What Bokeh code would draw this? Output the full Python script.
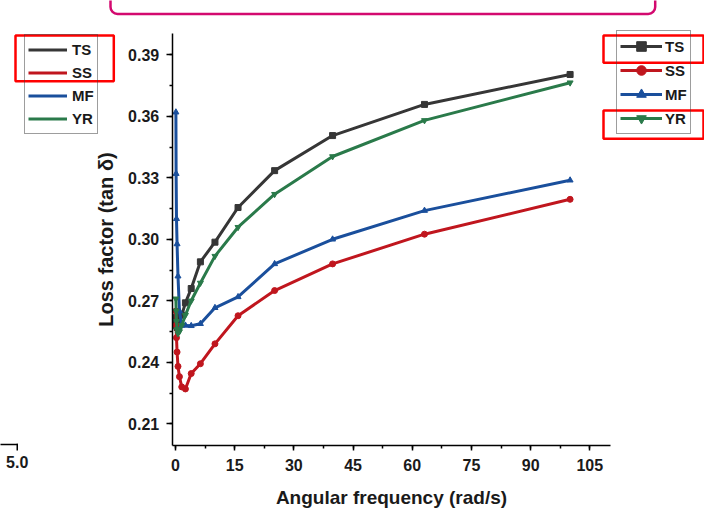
from bokeh.plotting import figure
from bokeh.models import (Legend, LegendItem, BoxAnnotation, Label, SingleIntervalTicker,
                          Range1d, NumeralTickFormatter)
from bokeh.embed import file_html
from bokeh.resources import INLINE

# ---- data ----
freq = [0.1, 0.158, 0.251, 0.398, 0.631, 1.0, 1.585, 2.512, 3.981, 6.31, 10.0, 15.85, 25.12, 39.81, 63.1, 100.0]
TS = [0.262, 0.260, 0.258, 0.257, 0.257, 0.259, 0.263, 0.269, 0.276, 0.289, 0.2986, 0.3155, 0.3335, 0.3506, 0.3658, 0.3804]
SS = [0.265, 0.258, 0.252, 0.245, 0.238, 0.233, 0.228, 0.227, 0.2345, 0.2393, 0.249, 0.2627, 0.275, 0.288, 0.3025, 0.3195]
MF = [0.362, 0.332, 0.310, 0.2977, 0.282, 0.265, 0.258, 0.258, 0.2578, 0.2588, 0.2666, 0.2719, 0.288, 0.300, 0.314, 0.3288]
YR = [0.271, 0.265, 0.260, 0.256, 0.254, 0.255, 0.258, 0.263, 0.270, 0.2787, 0.2918, 0.3059, 0.322, 0.3404, 0.358, 0.3764]
series_names = ["TS", "SS", "MF", "YR"]
series_values = [TS, SS, MF, YR]
colors = ["#363636", "#c0161e", "#1a4f9c", "#2a7a4a"]
markers = ["square", "circle", "triangle", "inverted_triangle"]

FONT = "Liberation Sans"
TXT = "#1a1a1a"

W, H = 704, 509
# pixel geometry of the plot area (x=0 at 175px, 3.946 px/unit; y=0.39 at 54.3px, 2050 px/unit)
X0, XS = 175.0, 3.946
Y39, YS = 54.3, 2050.0
def xv(px): return (px - X0) / XS
def yv(py): return 0.39 - (py - Y39) / YS

p = figure(width=W, height=H, output_backend="svg", toolbar_location=None,
           x_range=Range1d(xv(0), xv(W)), y_range=Range1d(yv(H), yv(0)),
           min_border=0, min_border_left=0, min_border_right=0,
           min_border_top=0, min_border_bottom=0)
p.title.visible = False
p.outline_line_color = None
p.grid.visible = False
p.background_fill_color = "white"
p.border_fill_color = "white"

line_rs, mark_rs = [], []
for name, vals, c, m in zip(series_names, series_values, colors, markers):
    lr = p.line(freq, vals, line_color=c, line_width=3)
    mr = p.scatter(freq, vals, marker=m, size=6, fill_color=c, line_color=c)
    line_rs.append(lr)
    mark_rs.append(mr)

x_left, x_right = xv(171.7), xv(610)
y_bot, y_top = yv(444.7), yv(33)

for ax in (p.xaxis[0], p.yaxis[0]):
    ax.axis_line_color = "black"
    ax.axis_line_width = 1.5
    ax.major_tick_line_color = "black"
    ax.minor_tick_line_color = "black"
    ax.major_tick_line_width = 1.5
    ax.minor_tick_line_width = 1.5
    ax.major_tick_in = 0
    ax.minor_tick_in = 0
    ax.major_label_text_font = FONT
    ax.major_label_text_font_style = "bold"
    ax.major_label_text_font_size = "16px"
    ax.major_label_text_color = TXT
    ax.axis_label_text_font = FONT
    ax.axis_label_text_font_style = "bold"
    ax.axis_label_text_color = TXT

p.xaxis.fixed_location = y_bot
p.yaxis.fixed_location = x_left
p.xaxis.bounds = (x_left, x_right)
p.yaxis.bounds = (y_bot, y_top)
p.xaxis.ticker = SingleIntervalTicker(interval=15, num_minor_ticks=2)
p.yaxis.ticker = SingleIntervalTicker(interval=0.03, num_minor_ticks=2)
p.yaxis.formatter = NumeralTickFormatter(format="0.00")
p.xaxis.major_tick_out = 5
p.xaxis.minor_tick_out = 3
p.yaxis.major_tick_out = 6
p.yaxis.minor_tick_out = 3
p.xaxis.major_label_standoff = 9
p.yaxis.major_label_standoff = 7
p.xaxis.axis_label = "Angular frequency (rad/s)"
p.yaxis.axis_label = "Loss factor (tan δ)"
p.xaxis.axis_label_text_font_size = "19px"
p.yaxis.axis_label_text_font_size = "20px"
p.xaxis.axis_label_standoff = 12
p.yaxis.axis_label_standoff = 8

# legends
def make_legend(items, loc, gw, ih, pad, standoff):
    lg = Legend(items=items, location=loc, orientation="vertical")
    lg.label_text_font = FONT
    lg.label_text_font_style = "bold"
    lg.label_text_font_size = "15px"
    lg.label_text_color = TXT
    lg.glyph_width = gw
    lg.glyph_height = ih
    lg.label_height = ih
    lg.label_standoff = standoff
    lg.spacing = 0
    lg.padding = pad
    lg.margin = 0
    lg.border_line_color = "#3c3c3c"
    lg.border_line_width = 1
    lg.background_fill_alpha = 0
    return lg

left_items = [LegendItem(label=n, renderers=[lr]) for n, lr in zip(series_names, line_rs)]
right_items = [LegendItem(label=n, renderers=[lr, mr]) for n, lr, mr in zip(series_names, line_rs, mark_rs)]
p.add_layout(make_legend(left_items, (24, H - 133.5), 39, 23, 3, 5))
p.add_layout(make_legend(right_items, (616, H - 134.3), 42, 24, 3, 3))

# overlay boxes (canvas units)
def cbox(l, t, r, b, color, width=2.5, fill=None, radius=0):
    box = BoxAnnotation(left=l, right=r, top=t, bottom=b,
                        left_units="canvas", right_units="canvas",
                        top_units="canvas", bottom_units="canvas",
                        fill_color=fill if fill else "white", fill_alpha=1 if fill else 0,
                        line_color=color if color else "black", line_alpha=1 if width else 0,
                        line_width=width if width else 1,
                        border_radius=radius, level="overlay")
    p.add_layout(box)

cbox(110, -20, 654.7, 13.5, "#d3096f", 2.5, radius=7)
cbox(15, 35, 113.3, 80.7, "#ff0000", 2.5)
cbox(603, 35, 703, 62.3, "#ff0000", 2.5)
cbox(603, 110, 703, 138.3, "#ff0000", 2.5)
cbox(-5, 443.3, 17.5, 444.8, None, 0, fill="black")
cbox(16, 443.3, 17.5, 450, None, 0, fill="black")

p.add_layout(Label(x=16.7, y=455, x_units="canvas", y_units="canvas", text="5.0",
                   text_font=FONT, text_font_style="bold", text_font_size="16px",
                   text_color=TXT, text_align="center", text_baseline="top"))

open("out.html", "w").write(file_html(p, INLINE))
